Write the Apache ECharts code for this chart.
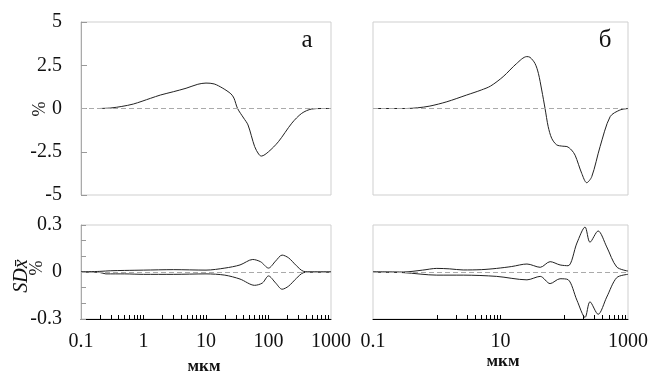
<!DOCTYPE html>
<html>
<head>
<meta charset="utf-8">
<script src="https://cdn.jsdelivr.net/npm/echarts@6/dist/echarts.min.js"></script>
<style>
html,body{margin:0;padding:0;background:#fff;}
#c{width:658px;height:377px;}
</style>
</head>
<body>
<div id="c"></div>
<script>
// ---- data ----
const xMajorLeft = [0.1, 1, 10, 100, 1000];
const xMajorRight = [0.1, 10, 1000];
const xMinorLeft = [0.2,0.3,0.4,0.5,0.6,0.7,0.8,0.9,1,2,3,4,5,6,7,8,9,10,20,30,40,50,60,70,80,90,100,200,300,400,500,600,700,800,900];
const xMinorRight = [1,2,3,4,5,6,7,8,9,10,100,200,300,400,500,600,700,800,900];
const yTopTicks = [-5, -2.5, 0, 2.5, 5];
const yBotLabels = [-0.3, 0, 0.3];

const topA = [[0.2,0],[0.3,0.03],[0.45,0.12],[0.69,0.26],[1.3,0.59],[1.87,0.78],[3,0.97],[4.8,1.17],[7.4,1.4],[10,1.47],[13.5,1.42],[18.6,1.17],[25,0.85],[28,0.6],[32,0],[40,-0.55],[47,-0.95],[60,-2.2],[70,-2.65],[77,-2.75],[100,-2.5],[144,-1.92],[236,-0.85],[340,-0.28],[490,-0.03],[700,0],[1000,0]];
const topB = [[0.1,0],[0.34,0],[0.5,0.04],[0.78,0.14],[1.44,0.39],[2.95,0.78],[5,1.07],[7,1.3],[11,1.84],[17.9,2.6],[25.8,3.0],[29,2.96],[34.8,2.6],[39.3,2.03],[44.3,1.07],[50,0],[56,-1.05],[63.5,-1.72],[76,-2.1],[95,-2.18],[110,-2.2],[130,-2.4],[148,-2.7],[188,-3.75],[225,-4.29],[270,-3.94],[365,-2.2],[525,-0.47],[745,-0.09],[1000,0]];
const botAUp = [[0.1,0],[0.2,0.004],[0.3,0.008],[0.5,0.01],[1,0.012],[3,0.015],[10,0.012],[20,0.025],[35,0.045],[56,0.08],[75,0.065],[100,0.025],[130,0.07],[165,0.108],[210,0.09],[280,0.04],[360,0.005],[500,0],[1000,0]];
const botALo = [[0.1,0],[0.2,-0.003],[0.25,-0.012],[0.5,-0.012],[1,-0.015],[3,-0.015],[10,-0.012],[20,-0.02],[35,-0.045],[60,-0.085],[80,-0.07],[100,-0.025],[130,-0.07],[165,-0.11],[210,-0.09],[280,-0.04],[360,-0.005],[500,0],[1000,0]];
const botBUp = [[0.1,0],[0.3,0],[0.6,0.012],[1,0.023],[1.6,0.02],[2.6,0.013],[5,0.015],[8.7,0.023],[15,0.035],[26,0.051],[42,0.03],[60,0.066],[86,0.045],[115,0.04],[158,0.185],[212,0.287],[253,0.19],[340,0.262],[464,0.16],[666,0.032],[1000,0.006]];
const botBLo = [[0.1,0],[0.3,-0.004],[1,-0.02],[2.6,-0.02],[8.7,-0.028],[26,-0.05],[42,-0.028],[60,-0.074],[86,-0.043],[115,-0.049],[158,-0.18],[212,-0.29],[253,-0.19],[340,-0.27],[464,-0.16],[666,-0.036],[1000,-0.015]];

// ---- chart ----
const FONT = '"Liberation Serif", "DejaVu Serif", serif';
const chart = echarts.init(document.getElementById('c'), null, {renderer: 'canvas'});

const gridStyle = {show: true, borderColor: '#cfcfcf', borderWidth: 1, backgroundColor: 'transparent'};
const grids = [
  Object.assign({left: 81, top: 22, width: 250, height: 173}, gridStyle),
  Object.assign({left: 373, top: 22, width: 255, height: 173}, gridStyle),
  Object.assign({left: 81, top: 225, width: 250, height: 94}, gridStyle),
  Object.assign({left: 373, top: 225, width: 255, height: 94}, gridStyle)
];

function topX(i) {
  return {type: 'log', logBase: 10, gridIndex: i, min: 0.1, max: 1000,
    axisLine: {show: false}, axisTick: {show: false}, axisLabel: {show: false}, splitLine: {show: false}};
}
function botX(i, major, minor) {
  return {type: 'log', logBase: 10, gridIndex: i, min: 0.1, max: 1000,
    axisLine: {show: true, onZero: false, lineStyle: {color: '#000', width: 1}},
    axisTick: {show: true, inside: true, length: 4, customValues: minor, lineStyle: {color: '#000'}},
    axisLabel: {show: true, customValues: major, margin: 13, fontFamily: FONT, fontSize: 20, color: '#111',
      formatter: v => String(v)},
    splitLine: {show: false}};
}
const mkLine = {silent: true, symbol: 'none', label: {show: false},
  lineStyle: {color: '#aaa', type: [5, 3], width: 1}, data: [{yAxis: 0}]};
const lineStyle = {color: '#222', width: 1};

const option = {
  animation: false,
  backgroundColor: '#fff',
  grid: grids,
  xAxis: [topX(0), topX(1), botX(2, xMajorLeft, xMinorLeft), botX(3, xMajorRight, xMinorRight)],
  yAxis: [
    {type: 'value', gridIndex: 0, min: -5, max: 5, interval: 2.5,
      axisLine: {show: true, lineStyle: {color: '#aaa'}},
      axisTick: {show: true, inside: true, length: 6, lineStyle: {color: '#999'}},
      axisLabel: {fontFamily: FONT, fontSize: 20, color: '#111', margin: 19,
        formatter: v => yTopTicks.indexOf(v) >= 0 ? String(v) : ''},
      splitLine: {show: false}},
    {type: 'value', gridIndex: 1, min: -5, max: 5, interval: 2.5,
      axisLine: {show: false}, axisTick: {show: false}, axisLabel: {show: false}, splitLine: {show: false}},
    {type: 'value', gridIndex: 2, min: -0.3, max: 0.3, interval: 0.1,
      axisLine: {show: true, lineStyle: {color: '#aaa'}},
      axisTick: {show: true, inside: true, length: 5, lineStyle: {color: '#999'}},
      axisLabel: {fontFamily: FONT, fontSize: 20, color: '#111', margin: 19,
        formatter: v => yBotLabels.some(t => Math.abs(t - v) < 1e-9) ? String(Math.round(v * 10) / 10) : ''},
      splitLine: {show: false}},
    {type: 'value', gridIndex: 3, min: -0.3, max: 0.3, interval: 0.1,
      axisLine: {show: false}, axisTick: {show: false}, axisLabel: {show: false}, splitLine: {show: false}}
  ],
  series: [
    {type: 'line', xAxisIndex: 0, yAxisIndex: 0, data: topA, showSymbol: false, smooth: 0.3, lineStyle: lineStyle, markLine: mkLine, z: 3},
    {type: 'line', xAxisIndex: 1, yAxisIndex: 1, data: topB, showSymbol: false, smooth: 0.3, lineStyle: lineStyle, markLine: mkLine, z: 3},
    {type: 'line', xAxisIndex: 2, yAxisIndex: 2, data: botAUp, showSymbol: false, smooth: 0.3, lineStyle: lineStyle, markLine: mkLine, z: 3},
    {type: 'line', xAxisIndex: 2, yAxisIndex: 2, data: botALo, showSymbol: false, smooth: 0.3, lineStyle: lineStyle, z: 3},
    {type: 'line', xAxisIndex: 3, yAxisIndex: 3, data: botBUp, showSymbol: false, smooth: 0.3, lineStyle: lineStyle, markLine: mkLine, z: 3},
    {type: 'line', xAxisIndex: 3, yAxisIndex: 3, data: botBLo, showSymbol: false, smooth: 0.3, lineStyle: lineStyle, z: 3}
  ],
  graphic: [
    {type: 'text', x: 307, y: 40, style: {text: 'а', font: '25px ' + FONT, fill: '#111', align: 'center', verticalAlign: 'middle'}},
    {type: 'text', x: 605, y: 40, style: {text: 'б', font: '25px ' + FONT, fill: '#111', align: 'center', verticalAlign: 'middle'}},
    {type: 'text', x: 40, y: 109, rotation: Math.PI / 2, style: {text: '%', font: '18px ' + FONT, fill: '#111', align: 'center', verticalAlign: 'middle'}},
    {type: 'text', x: 37, y: 268, rotation: Math.PI / 2, style: {text: '%', font: '18px ' + FONT, fill: '#111', align: 'center', verticalAlign: 'middle'}},
    {type: 'text', x: 22, y: 276, rotation: Math.PI / 2, style: {text: 'SDx\u0304', font: 'italic 20px ' + FONT, fill: '#111', align: 'center', verticalAlign: 'middle'}},
    {type: 'text', x: 204, y: 367, style: {text: 'мкм', font: 'bold 17px ' + FONT, fill: '#111', align: 'center', verticalAlign: 'middle'}},
    {type: 'text', x: 503, y: 362, style: {text: 'мкм', font: 'bold 17px ' + FONT, fill: '#111', align: 'center', verticalAlign: 'middle'}}
  ]
};
chart.setOption(option);
</script>
</body>
</html>
